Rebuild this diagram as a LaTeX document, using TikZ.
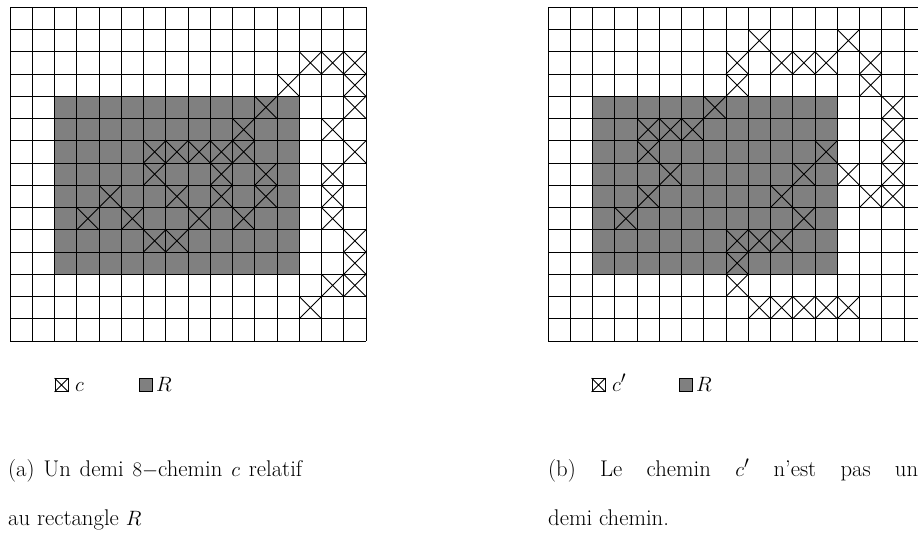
\documentclass[tikz,border=0pt]{standalone}
\usepackage{amsmath}
\definecolor{rgray}{HTML}{808080}
\newcommand\mycapfont{\fontsize{22.7}{49}\selectfont}
\begin{document}
\begin{tikzpicture}[x=1pt,y=-1pt,
  gridline/.style={line width=0.9pt,black},
  crossline/.style={line width=0.8pt,black},
  keybox/.style={draw=black,line width=0.8pt,minimum size=13pt,inner sep=0pt},
  txt/.style={inner sep=0pt,anchor=base west,font=\mycapfont}]
\useasboundingbox (0,0) rectangle (918,543);
\clip (0,0) rectangle (918,543);
% left grid
\begin{scope}[shift={(10,7.3)},x=22.25pt,y=-22.25pt]
  \fill[rgray] (2,4) rectangle (13,12);
  \foreach \k in {0,...,16} \draw[gridline] (\k,0) -- (\k,15);
  \foreach \k in {0,...,15} \draw[gridline] (0,\k) -- (16,\k);
  \foreach \i/\j in {13/2,14/2,15/2, 12/3,15/3, 11/4,15/4, 10/5,14/5,
     6/6,7/6,8/6,9/6,10/6,15/6, 6/7,9/7,11/7,14/7, 4/8,7/8,9/8,11/8,14/8,
     3/9,5/9,8/9,10/9,14/9, 6/10,7/10,15/10, 15/11, 14/12,15/12, 13/13}
    \draw[crossline] (\i,\j) -- (\i+1,\j+1) (\i+1,\j) -- (\i,\j+1);
\end{scope}
% right grid
\begin{scope}[shift={(548,7.3)},x=22.25pt,y=-22.25pt]
  \fill[rgray] (2,4) rectangle (13,12);
  \foreach \k in {0,...,17} \draw[gridline] (\k,0) -- (\k,15);
  \foreach \k in {0,...,15} \draw[gridline] (0,\k) -- (17,\k);
  \foreach \i/\j in {9/1,13/1, 8/2,10/2,11/2,12/2,14/2, 8/3,14/3, 7/4,15/4,
     4/5,5/5,6/5,15/5, 4/6,12/6,15/6, 5/7,11/7,13/7,15/7, 4/8,10/8,14/8,15/8,
     3/9,11/9, 8/10,9/10,10/10, 8/11, 8/12, 9/13,10/13,11/13,12/13,13/13}
    \draw[crossline] (\i,\j) -- (\i+1,\j+1) (\i+1,\j) -- (\i,\j+1);
\end{scope}
% legends
\node[keybox] (kc1) at (61.5,385) {};
\draw[crossline] (kc1.north west) -- (kc1.south east) (kc1.north east) -- (kc1.south west);
\node[txt] (lc1) at (75,391.5) {$c$};
\node[keybox,fill=rgray] (kr1) at (146,385) {};
\node[txt] (lr1) at (156,391.5) {$R$};
\node[keybox] (kc2) at (598.5,385) {};
\draw[crossline] (kc2.north west) -- (kc2.south east) (kc2.north east) -- (kc2.south west);
\node[txt] (lc2) at (612,391.5) {$c'$};
\node[keybox,fill=rgray] (kr2) at (686,385) {};
\node[txt] (lr2) at (696,391.5) {$R$};
% captions
\node[txt] (ca1) at (8,476) {\makebox[294pt][s]{(a) Un demi $8-$chemin $c$ relatif}};
\node[txt] (ca2) at (8,525) {au rectangle $R$};
\node[txt] (cb1) at (548,476) {\makebox[370pt][s]{(b) Le chemin $c'$ n'est pas un}};
\node[txt] (cb2) at (548,525) {demi chemin.};
\end{tikzpicture}
\end{document}
